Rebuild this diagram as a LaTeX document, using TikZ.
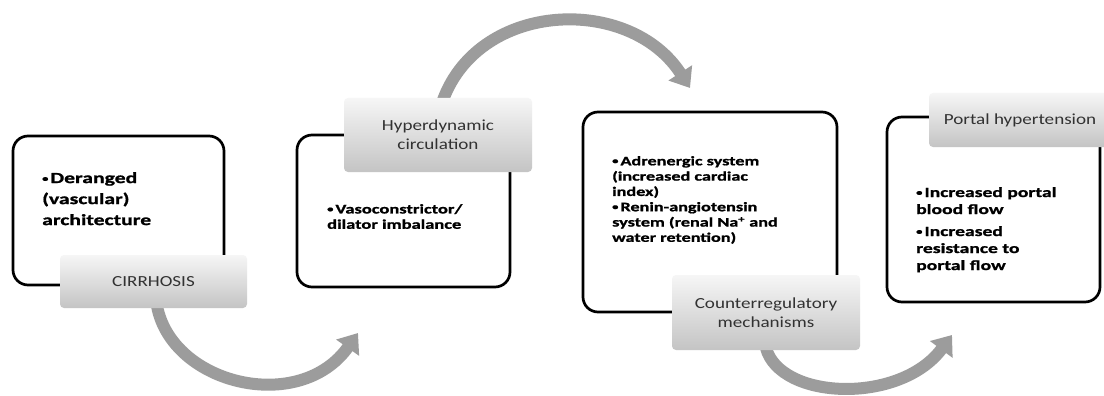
\documentclass[tikz,border=0pt]{standalone}
\usepackage{fontspec}
\setmainfont{Carlito}
\newfontfamily\lblfont[FakeStretch=1.24]{Carlito}
\newfontfamily\bulfont[FakeStretch=1.4, BoldFeatures={FakeBold=1.2}]{Carlito}
\usetikzlibrary{arrows.meta}
\definecolor{arrowgray}{RGB}{156,156,156}
\definecolor{lbltext}{RGB}{50,50,50}
\definecolor{lbltop}{RGB}{246,246,246}
\definecolor{lblbot}{RGB}{196,196,196}
\newcommand{\bp}{\raisebox{1.5pt}{\fontsize{9}{9}\selectfont •}\hspace{2pt}}
\begin{document}
\begin{tikzpicture}[x=1pt,y=-1pt,
  mainbox/.style={draw=black, line width=2.7pt, rounded corners=15pt, fill=white, inner sep=0pt},
  lblbox/.style={rounded corners=4pt, top color=lbltop, bottom color=lblbot, draw=none,
    font=\lblfont\fontsize{15.4}{19}\selectfont, text=lbltext, align=center, inner sep=0pt},
  bul/.style={anchor=north west, inner sep=0pt, align=left, text=black},
  flow/.style={draw=arrowgray, line width=12pt, -{Triangle[length=18pt,width=27pt]}}
]
\useasboundingbox (0,0) rectangle (1104,396);
\clip (0,0) rectangle (1104,396);
\fill[white] (0,0) rectangle (1104,396);

% main boxes
\node[mainbox, minimum width=211pt, minimum height=149pt] (b1) at (118.5,210.5) {};
\node[mainbox, minimum width=213pt, minimum height=152pt] (b2) at (403.5,211) {};
\node[mainbox, minimum width=254pt, minimum height=200pt] (b3) at (710,212) {};
\node[mainbox, minimum width=213pt, minimum height=185pt] (b4) at (993.5,209.5) {};

% arrow end points and label centres
\coordinate (e1) at (358,333);
\coordinate (e2) at (690,88);
\coordinate (e3) at (952,335);
\path (153.5,281.5) coordinate (c1) (438,135) coordinate (c2)
      (766,312.5) coordinate (c3) (1020,120) coordinate (c4);

% curved arrows
\draw[flow] (157,306) .. controls (172,385) and (300,415) .. (e1);
\draw[flow] (443,100) .. controls (480,0) and (630,-5) .. (e2);
\draw[flow] (766,348) .. controls (780,400) and (900,405) .. (e3);

% labels
\node[lblbox, minimum width=187pt, minimum height=53pt] (l1) at (c1) {CIRRHOSIS};
\node[lblbox, minimum width=188pt, minimum height=74pt] (l2) at (c2) {Hyperdynamic\\circulation};
\node[lblbox, minimum width=188pt, minimum height=75pt] (l3) at (c3) {Counterregulatory\\mechanisms};
\node[lblbox, minimum width=182pt, minimum height=54pt] (l4) at (c4) {Portal hypertension};

% bullet texts
\node[bul, font=\bulfont\bfseries\fontsize{15.5}{21}\selectfont] (t1) at (42,172)
  {\bp Deranged\\(vascular)\\architecture};
\node[bul, font=\bulfont\bfseries\fontsize{13.2}{15.3}\selectfont] (t2) at (327,204)
  {\bp Vasoconstrictor/\\dilator imbalance};
\node[bul, font=\bulfont\bfseries\fontsize{13}{15.3}\selectfont] (t3) at (612,156)
  {\bp Adrenergic system\\(increased cardiac\\index)\\\bp Renin-angiotensin\\system (renal Na\textsuperscript{+} and\\water retention)};
\node[bul, font=\bulfont\bfseries\fontsize{14}{17}\selectfont] (t4) at (916,187)
  {\bp Increased portal\\blood flow\\[5pt]\bp Increased\\resistance to\\portal flow};
\end{tikzpicture}
\end{document}
